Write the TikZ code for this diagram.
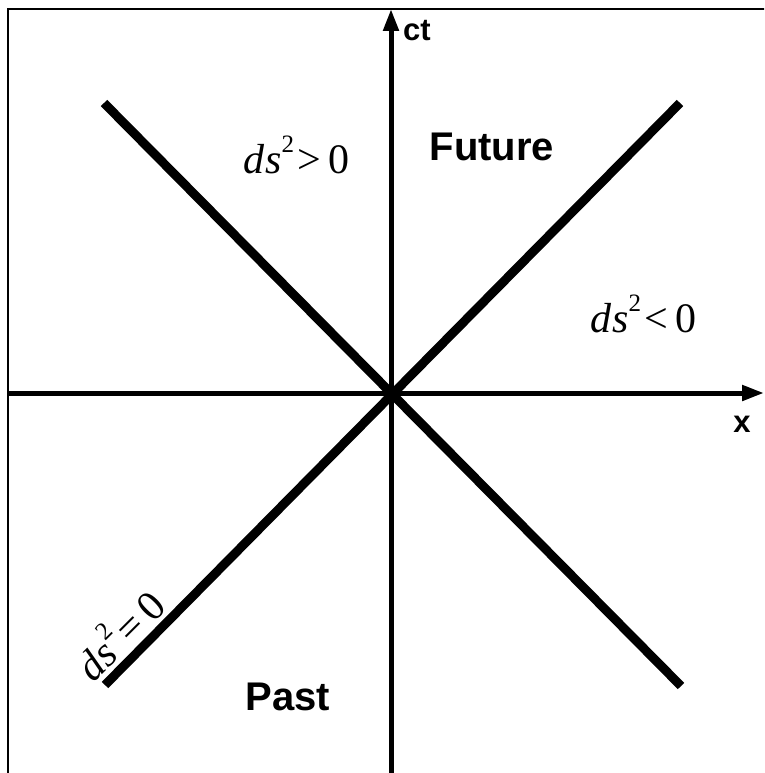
\documentclass[tikz,border=0pt]{standalone}
\usepackage{fontspec}
\setmainfont{Liberation Serif}
\newfontfamily\arialfont{Liberation Sans}
\usetikzlibrary{arrows.meta}
\newcommand{\dsq}[2]{{\itshape d\kern1pt s}\raisebox{0.5em}{\fontsize{25}{25}\selectfont 2}\kern3pt#1\kern8pt#2}
\tikzset{
  axis/.style={line width=5pt,-{Triangle[length=22pt,width=15pt]}},
  cone/.style={line width=9pt},
  frame/.style={line width=2pt},
  bigsans/.style={font=\arialfont\bfseries\fontsize{40}{42}\selectfont, inner sep=0pt},
  smallsans/.style={font=\arialfont\bfseries\fontsize{31}{33}\selectfont, inner sep=0pt},
  mathlabel/.style={font=\fontsize{42}{44}\selectfont, inner sep=0pt}
}
\begin{document}
\begin{tikzpicture}[x=1pt,y=-1pt]
\useasboundingbox (0,0) rectangle (764,773);
\begin{scope}
\clip (0,0) rectangle (764,773);
\draw[frame] (7.5,9.5) rectangle (800,800);
\end{scope}
\coordinate (O) at (391,393);
\coordinate (L) at (8,393);
\coordinate (R) at (764,393);
\coordinate (B) at (391,773);
\coordinate (T) at (391,9);
\coordinate (TL) at (104,103);
\coordinate (BR) at (681,686);
\coordinate (TR) at (680,103);
\coordinate (BL) at (105,685);
\draw[axis] (L) -- (R);
\draw[axis] (B) -- (T);
\draw[cone] (TL) -- (BR);
\draw[cone] (TR) -- (BL);
\node[smallsans] (ct) at (417,31) {ct};
\node[smallsans] (xl) at (742,424) {x};
\node[bigsans] (future) at (492,147) {Future};
\node[bigsans] (past) at (288,697) {Past};
\node[mathlabel, anchor=base west] (pos) at (243,173) {\dsq{>}{0}};
\node[mathlabel, anchor=base west] (neg) at (590,332) {\dsq{<}{0}};
\node[mathlabel, rotate=45, anchor=base west] (null) at (93,684) {\dsq{=}{0}};
\end{tikzpicture}
\end{document}
